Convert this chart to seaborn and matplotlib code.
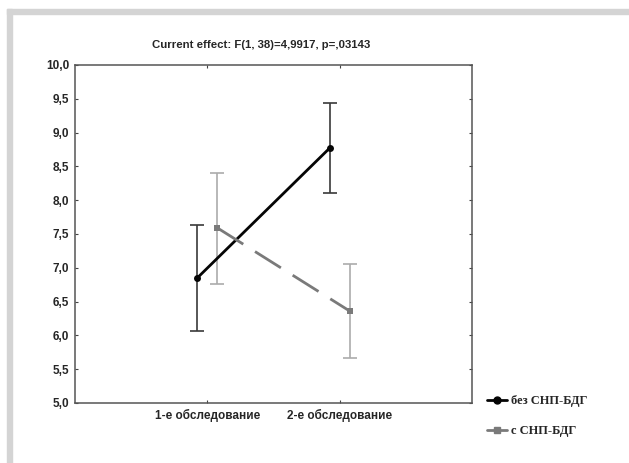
import numpy as np
import pandas as pd
import matplotlib
matplotlib.use("Agg")
import matplotlib.pyplot as plt
from matplotlib.patches import Rectangle
from matplotlib.lines import Line2D
import seaborn as sns

# data
visits = ["1-е обследование", "2-е обследование"]
groups = ["без СНП-БДГ", "с СНП-БДГ"]
mean_without = [6.85, 8.77]
low_without = [6.07, 8.11]
high_without = [7.63, 9.44]
mean_with = [7.59, 6.36]
low_with = [6.76, 5.67]
high_with = [8.40, 7.06]

line_colors = ["#050505", "#7a7a7a"]
bar_colors = ["#3a3a3a", "#ababab"]
offsets = [-0.076, 0.076]

sns.set_style("white")
plt.rcParams["font.family"] = ["Liberation Sans", "DejaVu Sans"]

rows = []
for g, means, lows, highs, off in zip(groups, [mean_without, mean_with], [low_without, low_with],
                                      [high_without, high_with], offsets):
    for i, v in enumerate(visits):
        rows.append({"group": g, "visit": v, "x": i + off, "mean": means[i],
                     "low": lows[i], "high": highs[i]})
df = pd.DataFrame(rows)

fig = plt.figure(figsize=(6.29, 4.63), dpi=100)
ax = fig.add_axes([75 / 629, 1 - 403 / 463, 397 / 629, 338 / 463])

# grey frame round the picture
fig.patches.append(Rectangle((7 / 629, 1 - 14 / 463), 1, 5 / 463, transform=fig.transFigure,
                             color="#d4d4d4", zorder=0))
fig.patches.append(Rectangle((7 / 629, 0), 5 / 629, 1 - 9 / 463, transform=fig.transFigure,
                             color="#d4d4d4", zorder=0))

styles = {groups[0]: "", groups[1]: (11, 5)}
sns.lineplot(data=df, x="x", y="mean", hue="group", style="group", palette=line_colors,
             dashes=styles, markers={groups[0]: "o", groups[1]: "s"}, markersize=5,
             markeredgewidth=0, linewidth=2.0, legend=False, ax=ax, zorder=3)

for g, bc in zip(groups, bar_colors):
    d = df[df.group == g]
    ax.errorbar(d["x"], d["mean"], yerr=[d["mean"] - d["low"], d["high"] - d["mean"]],
                fmt="none", ecolor=bc, elinewidth=1.2, capsize=5, capthick=1.2, zorder=2)

ax.set_xlim(-1, 2)
ax.set_ylim(5, 10)
ax.set_xticks(range(len(visits)))
ax.set_xticklabels(visits, fontsize=8.5, fontweight="bold")
ax.set_yticks(np.arange(5, 10.01, 0.5))
ax.set_yticklabels([f"{t:.1f}".replace(".", ",") for t in np.arange(5, 10.01, 0.5)],
                   fontsize=8.5, fontweight="bold")
ax.set_xlabel("")
ax.set_ylabel("")
ax.tick_params(direction="in", length=2.5, width=0.8, color="#444444", top=True, right=True,
               left=True, bottom=True, pad=4)
for s in ax.spines.values():
    s.set_color("#555555")
    s.set_linewidth(1.1)

fig.text(261.5 / 629, 1 - 45 / 463, "Current effect: F(1, 38)=4,9917, p=,03143",
         ha="center", va="center", fontsize=8.2, fontweight="bold")

handles = [Line2D([], [], color=c, lw=2, marker=m, markersize=5)
           for c, m in zip(line_colors, ["o", "s"])]
fig.legend(handles, groups, loc="center left", bbox_to_anchor=(476 / 629, 1 - 416 / 463),
           frameon=False, handlelength=1.6, handletextpad=0.3, labelspacing=1.45,
           prop={"family": "Liberation Serif", "weight": "bold", "size": 9})

fig.savefig("out.png", dpi=100)
